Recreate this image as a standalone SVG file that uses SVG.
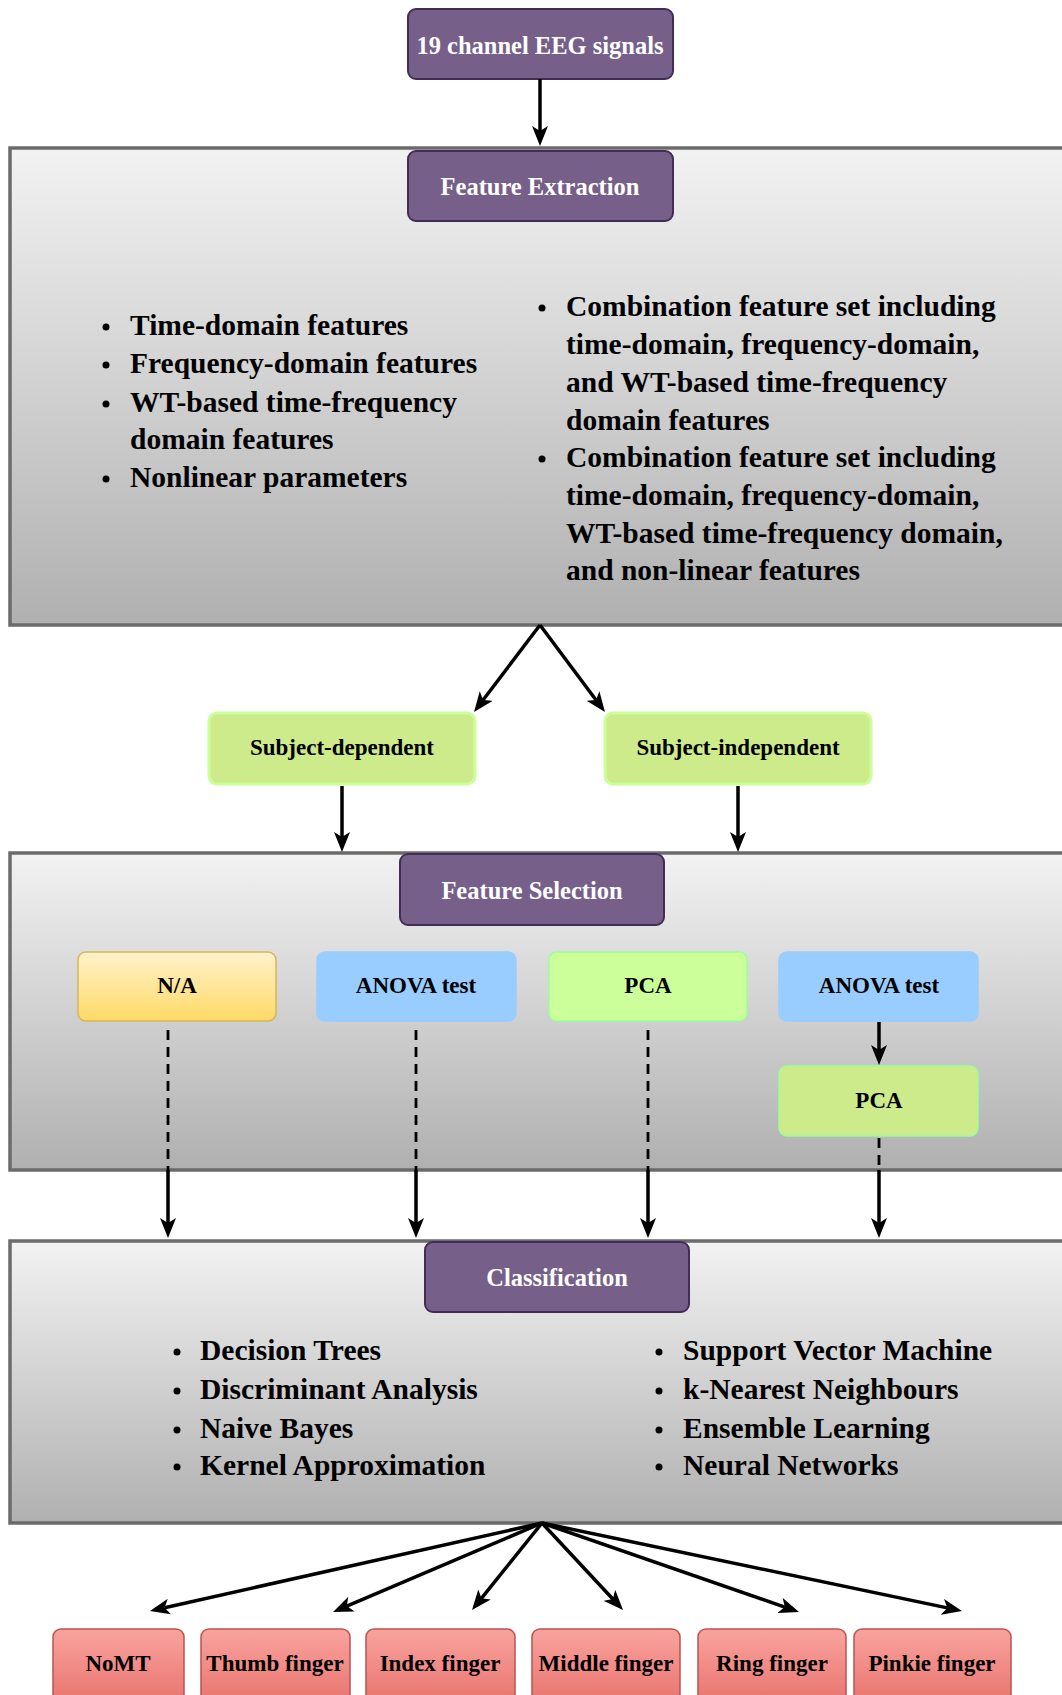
<svg xmlns="http://www.w3.org/2000/svg" width="1062" height="1695" viewBox="0 0 1062 1695">
<defs>
<linearGradient id="gFrame" x1="0" y1="0" x2="0" y2="1"><stop offset="0" stop-color="#f2f2f2"/><stop offset="1" stop-color="#b0b0b0"/></linearGradient>
<linearGradient id="gNA" x1="0" y1="0" x2="0" y2="1"><stop offset="0" stop-color="#fff2cc"/><stop offset="1" stop-color="#ffd966"/></linearGradient>
<linearGradient id="gRed" x1="0" y1="0" x2="0" y2="1"><stop offset="0" stop-color="#f9a39e"/><stop offset="1" stop-color="#e8706b"/></linearGradient>
<marker id="ah" viewBox="0 0 20 16" refX="5" refY="8" markerWidth="20" markerHeight="16" markerUnits="userSpaceOnUse" orient="auto"><path d="M0,0 L20,8 L0,16 L5,8 Z" fill="#000"/></marker>
</defs>
<style>
.frame{fill:url(#gFrame);stroke:#6b6b6b;stroke-width:3.5}
.purple{fill:#76608a;stroke:#432d57;stroke-width:2}
.ptxt{font-family:"Liberation Serif",serif;font-weight:bold;font-size:24.5px;fill:#fff;text-anchor:middle;dominant-baseline:central}
.btxt{font-family:"Liberation Serif",serif;font-weight:bold;font-size:23px;fill:#000;text-anchor:middle;dominant-baseline:central}
.list{font-family:"Liberation Serif",serif;font-weight:bold;font-size:29.5px;fill:#000;dominant-baseline:central}
.subj{fill:#cdeb8b;stroke:#ccff99;stroke-width:3}
.conn{stroke:#000;stroke-width:3.5;fill:none}
.dash{stroke:#000;stroke-width:2.8;fill:none;stroke-dasharray:10,7}
.red{fill:url(#gRed);stroke:#b85450;stroke-width:1.5}
</style>

<g id="frame-extraction"><rect class="frame" x="10" y="148" width="1070" height="477"/></g>
<g id="frame-selection"><rect class="frame" x="10" y="853" width="1070" height="317"/></g>
<g id="frame-classification"><rect class="frame" x="10" y="1241" width="1070" height="282"/></g>

<g id="eeg"><rect class="purple" x="408" y="9" width="265" height="70" rx="8"/><text class="ptxt" x="540" y="45">19 channel EEG signals</text></g>
<g id="feature-extraction"><rect class="purple" x="408" y="151" width="265" height="70" rx="8"/><text class="ptxt" x="540" y="186">Feature Extraction</text></g>

<g id="fe-list-left">
<circle cx="106" cy="327" r="3.5"/><text class="list" x="130" y="325">Time-domain features</text>
<circle cx="106" cy="365" r="3.5"/><text class="list" x="130" y="363">Frequency-domain features</text>
<circle cx="106" cy="404" r="3.5"/><text class="list" x="130" y="402">WT-based time-frequency</text>
<text class="list" x="130" y="439">domain features</text>
<circle cx="106" cy="479" r="3.5"/><text class="list" x="130" y="477">Nonlinear parameters</text>
</g>
<g id="fe-list-right">
<circle cx="542" cy="308" r="3.5"/><text class="list" x="566" y="306">Combination feature set including</text>
<text class="list" x="566" y="344">time-domain, frequency-domain,</text>
<text class="list" x="566" y="382">and WT-based time-frequency</text>
<text class="list" x="566" y="420">domain features</text>
<circle cx="542" cy="459" r="3.5"/><text class="list" x="566" y="457">Combination feature set including</text>
<text class="list" x="566" y="495">time-domain, frequency-domain,</text>
<text class="list" x="566" y="533">WT-based time-frequency domain,</text>
<text class="list" x="566" y="570">and non-linear features</text>
</g>

<g id="subject-dependent"><rect class="subj" x="209" y="713" width="266" height="71" rx="8"/><text class="btxt" x="342" y="747">Subject-dependent</text></g>
<g id="subject-independent"><rect class="subj" x="605" y="713" width="266" height="71" rx="8"/><text class="btxt" x="738" y="747">Subject-independent</text></g>

<g id="feature-selection"><rect class="purple" x="400" y="854" width="264" height="71" rx="8"/><text class="ptxt" x="532" y="890">Feature Selection</text></g>
<g id="na"><rect x="78" y="952" width="198" height="69" rx="8" fill="url(#gNA)" stroke="#d6b656" stroke-width="1.5"/><text class="btxt" x="177" y="985">N/A</text></g>
<g id="anova1"><rect x="317" y="952" width="199" height="69" rx="8" fill="#99ccff" stroke="#99ccff" stroke-width="1.5"/><text class="btxt" x="416" y="985">ANOVA test</text></g>
<g id="pca1"><rect x="549" y="952" width="198" height="69" rx="8" fill="#ccff99" stroke="#99ff99" stroke-width="1.5"/><text class="btxt" x="648" y="985">PCA</text></g>
<g id="anova2"><rect x="779" y="952" width="199" height="69" rx="8" fill="#99ccff" stroke="#99ccff" stroke-width="1.5"/><text class="btxt" x="879" y="985">ANOVA test</text></g>
<g id="pca2"><rect x="779" y="1066" width="199" height="70" rx="8" fill="#cdeb8b" stroke="#99ff99" stroke-width="1.5"/><text class="btxt" x="879" y="1100">PCA</text></g>

<g id="classification"><rect class="purple" x="425" y="1242" width="264" height="70" rx="8"/><text class="ptxt" x="557" y="1277">Classification</text></g>
<g id="cl-list-left">
<circle cx="177" cy="1352" r="3.5"/><text class="list" x="200" y="1350">Decision Trees</text>
<circle cx="177" cy="1391" r="3.5"/><text class="list" x="200" y="1389">Discriminant Analysis</text>
<circle cx="177" cy="1430" r="3.5"/><text class="list" x="200" y="1428">Naive Bayes</text>
<circle cx="177" cy="1467" r="3.5"/><text class="list" x="200" y="1465">Kernel Approximation</text>
</g>
<g id="cl-list-right">
<circle cx="659" cy="1352" r="3.5"/><text class="list" x="683" y="1350">Support Vector Machine</text>
<circle cx="659" cy="1391" r="3.5"/><text class="list" x="683" y="1389">k-Nearest Neighbours</text>
<circle cx="659" cy="1430" r="3.5"/><text class="list" x="683" y="1428">Ensemble Learning</text>
<circle cx="659" cy="1467" r="3.5"/><text class="list" x="683" y="1465">Neural Networks</text>
</g>

<g id="nomt"><rect class="red" x="53" y="1629" width="131" height="80" rx="8"/><text class="btxt" x="118" y="1663">NoMT</text></g>
<g id="thumb"><rect class="red" x="201" y="1629" width="149" height="80" rx="8"/><text class="btxt" x="275" y="1663">Thumb finger</text></g>
<g id="index"><rect class="red" x="366" y="1629" width="149" height="80" rx="8"/><text class="btxt" x="440" y="1663">Index finger</text></g>
<g id="middle"><rect class="red" x="532" y="1629" width="148" height="80" rx="8"/><text class="btxt" x="606" y="1663">Middle finger</text></g>
<g id="ring"><rect class="red" x="698" y="1629" width="148" height="80" rx="8"/><text class="btxt" x="772" y="1663">Ring finger</text></g>
<g id="pinkie"><rect class="red" x="854" y="1629" width="157" height="80" rx="8"/><text class="btxt" x="932" y="1663">Pinkie finger</text></g>

<g id="connectors">
<line class="conn" x1="540" y1="79" x2="540" y2="131" marker-end="url(#ah)"/>
<line class="conn" x1="540" y1="625" x2="483.1" y2="700" marker-end="url(#ah)"/>
<line class="conn" x1="540" y1="625" x2="596" y2="700" marker-end="url(#ah)"/>
<line class="conn" x1="342" y1="786" x2="342" y2="837" marker-end="url(#ah)"/>
<line class="conn" x1="738" y1="786" x2="738" y2="837" marker-end="url(#ah)"/>
<line class="conn" x1="879" y1="1022" x2="879" y2="1050" marker-end="url(#ah)"/>
<line class="dash" x1="168" y1="1030" x2="168" y2="1170"/>
<line class="dash" x1="416" y1="1030" x2="416" y2="1170"/>
<line class="dash" x1="648" y1="1030" x2="648" y2="1170"/>
<line class="dash" x1="879" y1="1138" x2="879" y2="1170"/>
<line class="conn" x1="168" y1="1170" x2="168" y2="1223" marker-end="url(#ah)"/>
<line class="conn" x1="416" y1="1170" x2="416" y2="1223" marker-end="url(#ah)"/>
<line class="conn" x1="648" y1="1170" x2="648" y2="1223" marker-end="url(#ah)"/>
<line class="conn" x1="879" y1="1170" x2="879" y2="1223" marker-end="url(#ah)"/>
<line class="conn" x1="542" y1="1523" x2="164.6" y2="1607.7" marker-end="url(#ah)"/>
<line class="conn" x1="542" y1="1523" x2="346.8" y2="1606.1" marker-end="url(#ah)"/>
<line class="conn" x1="542" y1="1523" x2="481.4" y2="1598.3" marker-end="url(#ah)"/>
<line class="conn" x1="542" y1="1523" x2="612.8" y2="1599" marker-end="url(#ah)"/>
<line class="conn" x1="542" y1="1523" x2="784.8" y2="1607.1" marker-end="url(#ah)"/>
<line class="conn" x1="542" y1="1523" x2="947.3" y2="1607.9" marker-end="url(#ah)"/>
</g>
</svg>
